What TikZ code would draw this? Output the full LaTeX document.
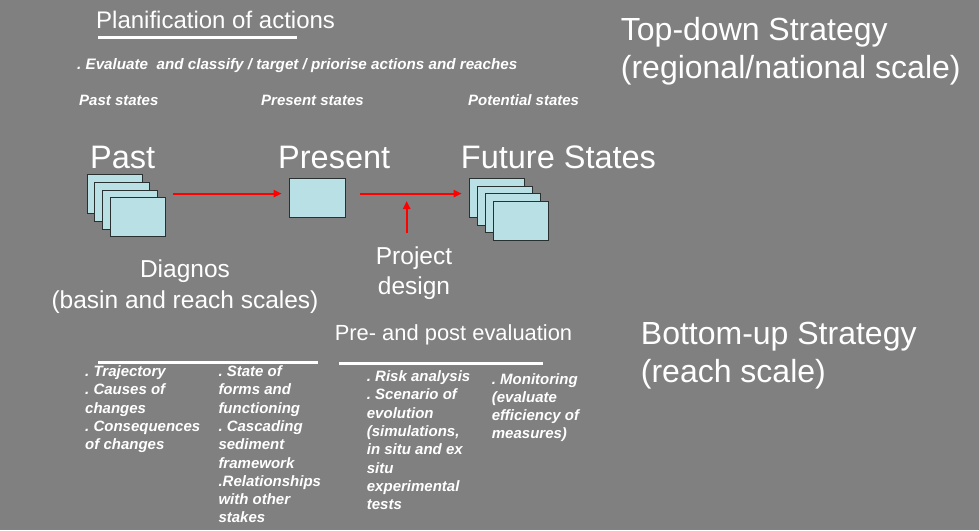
\documentclass[tikz,border=0pt]{standalone}
\usepackage{fontspec}
\setmainfont{Liberation Sans}
\usetikzlibrary{arrows.meta}
\definecolor{bg}{RGB}{128,128,128}
\definecolor{boxfill}{RGB}{185,224,228}
\definecolor{boxline}{RGB}{40,48,48}
\definecolor{arrred}{RGB}{255,0,0}
\frenchspacing
\begin{document}
\begin{tikzpicture}[x=1pt,y=-1pt,
  txt/.style={text=white, inner sep=0pt, anchor=base west},
  bigtitle/.style={txt, font=\fontsize{32}{38}\selectfont},
  statetitle/.style={txt, font=\fontsize{32.5}{38}\selectfont},
  bi/.style={txt, font=\fontsize{15}{18.3}\selectfont\bfseries\itshape\frenchspacing, align=left},
  statebox/.style={draw=boxline, fill=boxfill, line width=1pt, minimum width=55pt, minimum height=39pt, inner sep=0pt, anchor=north west},
  redarrow/.style={color=arrred, draw=arrred, line width=2pt, -{Triangle[length=8pt,width=7pt]}},
  wline/.style={draw=white, line width=3pt}
]
\fill[bg] (0,0) rectangle (979,530);
\useasboundingbox (0,0) rectangle (979,530);

% headings
\node[txt, font=\fontsize{24}{28}\selectfont] (plan) at (96,28) {Planification of actions};
\draw[wline] (98,37) -- (297,37);
\node[bi, font=\fontsize{15.2}{18.3}\selectfont\bfseries\itshape] (eval) at (77,69) {. Evaluate\ \ and classify / target / priorise actions and reaches};
\node[bi] (pasts) at (79,105.7) {Past states};
\node[bi] (pres) at (261,105.7) {Present states};
\node[bi] (pots) at (468,105.7) {Potential states};

% multi-line nodes: base anchor = baseline of last line
\node[bigtitle, align=left] (topdown) at (620.7,78) {Top-down Strategy\\(regional/national scale)};
\node[bigtitle, align=left] (bottomup) at (640.7,382) {Bottom-up Strategy\\(reach scale)};

% states
\node[statetitle] (pastt) at (90,168) {Past};
\node[statetitle] (prest) at (278,168) {Present};
\node[statetitle] (futt) at (460.7,168) {Future States};

\node[statebox] (p1) at (86.7,174.3) {};
\node[statebox] (p2) at (94.4,182) {};
\node[statebox] (p3) at (102.1,189.7) {};
\node[statebox] (p4) at (109.8,197.4) {};

\node[statebox, minimum width=56pt] (pr) at (289.3,177.7) {};

\node[statebox] (f1) at (469.3,177.7) {};
\node[statebox] (f2) at (477.3,185.5) {};
\node[statebox] (f3) at (485.3,193.3) {};
\node[statebox] (f4) at (493.3,201.1) {};

% arrows
\coordinate (a1s) at (173.3,193.6);
\coordinate (a2s) at (360,193.6);
\coordinate (pdbot) at (406.7,233);
\coordinate (pdtop) at (406.7,201);
\draw[redarrow, shorten >=7.6pt] (a1s) -- (a1s -| pr.west);
\draw[redarrow, shorten >=7.6pt] (a2s) -- (a2s -| f1.west);
\draw[redarrow] (pdbot) -- (pdtop);

% labels
\node[txt, anchor=base, align=center, font=\fontsize{24.5}{31.6}\selectfont] (diag) at (185,308.6) {Diagnos\\(basin and reach scales)};
\node[txt, anchor=base, align=center, font=\fontsize{24.5}{29.7}\selectfont] (proj) at (414,294.3) {Project\\design};
\node[txt, font=\fontsize{21.9}{26}\selectfont] (prepost) at (334.6,340.7) {Pre- and post evaluation};

% bottom
\draw[wline] (98,362.7) -- (318,362.7);
\draw[wline] (339.3,363) -- (543.3,363);
\node[bi] (c1) at (85,449.7) {. Trajectory\\. Causes of\\changes\\. Consequences\\of changes};
\node[bi] (c2) at (218.3,522.9) {. State of\\forms and\\functioning\\. Cascading\\sediment\\framework\\.Relationships\\with other\\stakes};
\node[bi] (c3) at (366.7,509.6) {. Risk analysis\\. Scenario of\\evolution\\(simulations,\\in situ and ex\\situ\\experimental\\tests};
\node[bi] (c4) at (491.7,438.9) {. Monitoring\\(evaluate\\efficiency of\\measures)};
\end{tikzpicture}
\end{document}
